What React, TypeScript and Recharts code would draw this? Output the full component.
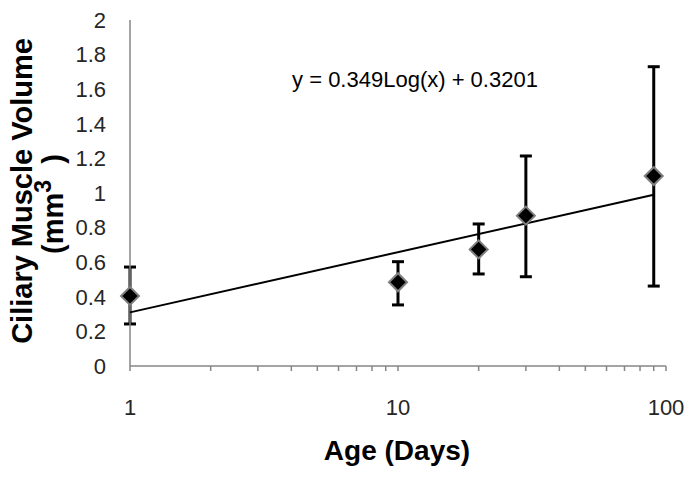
import {
  ComposedChart,
  Scatter,
  ErrorBar,
  XAxis,
  YAxis,
} from 'recharts'

const FONT = '"Liberation Sans", Arial, sans-serif'

// measured points (age in days, volume mm3)
const ages = [1, 10, 20, 30, 90]
const volumes = [0.405, 0.484, 0.674, 0.869, 1.098]
const lows = [0.243, 0.353, 0.532, 0.516, 0.462]
const highs = [0.572, 0.603, 0.821, 1.214, 1.73]

// log fit line endpoints
const trendAges = [1, 90]
const trendVolumes = [0.31, 0.99]

const xTicks = [1, 2, 3, 4, 5, 6, 7, 8, 9, 10, 20, 30, 40, 50, 60, 70, 80, 90, 100]
const xLabels = [1, 10, 100]
const yTicks = [0, 0.2, 0.4, 0.6, 0.8, 1, 1.2, 1.4, 1.6, 1.8, 2]

const points = ages.map((age, i) => ({
  age,
  volume: volumes[i],
  err: [volumes[i] - lows[i], highs[i] - volumes[i]],
}))

const trend = trendAges.map((age, i) => ({ age, volume: trendVolumes[i] }))

function Diamond(props: any) {
  const { cx, cy } = props
  if (cx == null || cy == null) return <g />
  const r = 9
  return (
    <path
      d={`M${cx},${cy - r} L${cx + r},${cy} L${cx},${cy + r} L${cx - r},${cy} Z`}
      fill="#000"
      stroke="#7f7f7f"
      strokeWidth={2}
    />
  )
}

function Titles() {
  return (
    <g fontFamily={FONT}>
      <text
        transform="translate(32,191) rotate(-90)"
        textAnchor="middle"
        fontSize={29}
        fontWeight="bold"
        fill="#000"
      >
        Ciliary Muscle Volume
      </text>
      <text
        transform="translate(63,204) rotate(-90)"
        textAnchor="middle"
        fontSize={29}
        fontWeight="bold"
        fill="#000"
      >
        (mm<tspan dy={-12} fontSize={23}>3</tspan>
        <tspan dy={12}>{'\u00a0\u00a0)'}</tspan>
      </text>
      <text x={415} y={87} textAnchor="middle" fontSize={22} fill="#000">
        y = 0.349Log(x) + 0.3201
      </text>
    </g>
  )
}

function XTitle() {
  return (
    <text
      x={397}
      y={460}
      textAnchor="middle"
      fontFamily={FONT}
      fontSize={28}
      fontWeight="bold"
      fill="#000"
    >
      Age (Days)
    </text>
  )
}

export default function App() {
  return (
    <div style={{ position: 'absolute', left: 0, top: 0, background: '#fff' }}>
      <ComposedChart
        width={695}
        height={478}
        margin={{ top: 20, right: 29, bottom: 52, left: 70 }}
      >
        <XAxis
          dataKey="age"
          type="number"
          scale="log"
          domain={[1, 100]}
          ticks={xTicks}
          interval={0}
          tickFormatter={(v: number) => (xLabels.includes(v) ? String(v) : '')}
          stroke="#868686"
          strokeWidth={1.5}
          tickSize={5}
          tickMargin={28}
          tick={{ fill: '#262626', fontSize: 22, fontFamily: FONT }}
          height={60}
          label={{ content: () => <XTitle /> }}
        />
        <YAxis
          dataKey="volume"
          type="number"
          domain={[0, 2]}
          ticks={yTicks}
          interval={0}
          stroke="#868686"
          strokeWidth={1.5}
          tickLine={false}
          tickSize={0}
          tickMargin={24}
          tick={{ fill: '#262626', fontSize: 22, fontFamily: FONT }}
          width={60}
          label={{ content: () => <Titles /> }}
        />
        <Scatter
          data={trend}
          dataKey="volume"
          line={{ stroke: '#000', strokeWidth: 2 }}
          shape={() => <g />}
          isAnimationActive={false}
        />
        <Scatter
          data={points}
          dataKey="volume"
          shape={<Diamond />}
          isAnimationActive={false}
        >
          <ErrorBar
            dataKey="err"
            direction="y"
            width={6}
            stroke="#000"
            strokeWidth={3}
            isAnimationActive={false}
          />
        </Scatter>
      </ComposedChart>
    </div>
  )
}
